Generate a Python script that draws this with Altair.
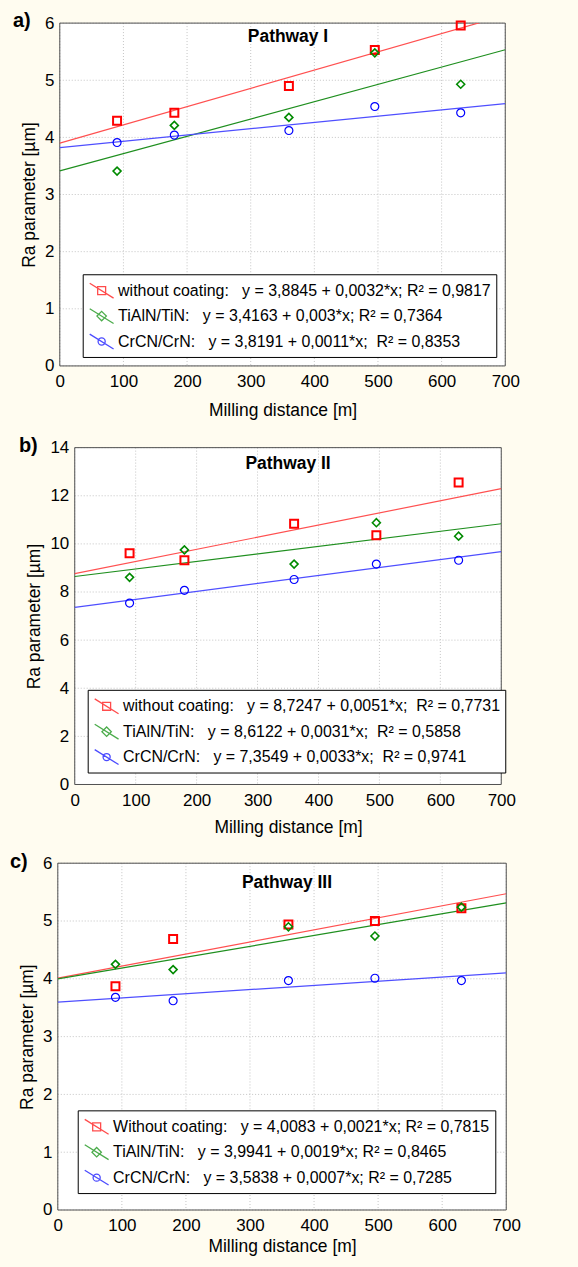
import altair as alt
import pandas as pd

FONT = "Liberation Sans"
BG = "#fffcf0"

# ---------------- data ----------------
x_m = [90, 180, 360, 495, 630]
series = ["without coating", "TiAlN/TiN", "CrCN/CrN"]
x_ticks = [0, 100, 200, 300, 400, 500, 600, 700]

# Pathway I
a_without = [4.29, 4.43, 4.90, 5.53, 5.96]
a_tialn = [3.41, 4.21, 4.35, 5.48, 4.93]
a_crcn = [3.91, 4.04, 4.12, 4.54, 4.43]
a_labels = [
    "without coating:   y = 3,8845 + 0,0032*x; R² = 0,9817",
    "TiAlN/TiN:   y = 3,4163 + 0,003*x; R² = 0,7364",
    "CrCN/CrN:   y = 3,8191 + 0,0011*x;  R² = 0,8353",
]
a_yticks = [0, 1, 2, 3, 4, 5, 6]

# Pathway II
b_without = [9.61, 9.32, 10.84, 10.36, 12.55]
b_tialn = [8.61, 9.75, 9.16, 10.88, 10.32]
b_crcn = [7.54, 8.07, 8.52, 9.16, 9.32]
b_labels = [
    "without coating:   y = 8,7247 + 0,0051*x;  R² = 0,7731",
    "TiAlN/TiN:   y = 8,6122 + 0,0031*x;  R² = 0,5858",
    "CrCN/CrN:   y = 7,3549 + 0,0033*x;  R² = 0,9741",
]
b_yticks = [0, 2, 4, 6, 8, 10, 12, 14]

# Pathway III
c_without = [3.87, 4.69, 4.94, 5.00, 5.22]
c_tialn = [4.25, 4.16, 4.90, 4.74, 5.24]
c_crcn = [3.68, 3.62, 3.97, 4.01, 3.97]
c_labels = [
    "Without coating:   y = 4,0083 + 0,0021*x; R² = 0,7815",
    "TiAlN/TiN:   y = 3,9941 + 0,0019*x; R² = 0,8465",
    "CrCN/CrN:   y = 3,5838 + 0,0007*x; R² = 0,7285",
]
c_yticks = [0, 1, 2, 3, 4, 5, 6]

# ---------------- styles ----------------
marker_colors = ["#ff0000", "#008a00", "#0000ff"]
line_colors = ["#ff5050", "#1f8f1f", "#4f4fff"]
marker_shapes = ["square", "diamond", "circle"]
marker_sizes = [64, 64, 40]
marker_widths = [2, 1.2, 2]
LINE = "M-1.14,-0.71L1.14,0.71"
legend_paths = [
    LINE + "M-0.38,-0.38H0.38V0.38H-0.38Z",
    LINE + "M0,-0.45L0.45,0L0,0.45L-0.45,0Z",
    LINE + "M0.34,0A0.34,0.34,0,1,1,-0.34,0A0.34,0.34,0,1,1,0.34,0Z",
]
ORIGIN = 57  # common left edge of the panel groups (page pixels)


def nb(s):
    return s.replace(" ", "\u00a0")


def frame(vals, labels):
    rows = []
    for s, lab, ys in zip(series, labels, vals):
        for xv, yv in zip(x_m, ys):
            rows.append({"x": xv, "y": yv, "series": s, "label": nb(lab)})
    return pd.DataFrame(rows)


def panel(vals, labels, yticks, letter, title, g):
    df = frame(vals, labels)
    w, h = g["w"], g["h"]
    px, py = g["px"], g["py"]
    s = px - ORIGIN
    xscale = alt.Scale(domain=[0, 700], nice=False, range=[s, s + w])
    yscale = alt.Scale(domain=[0, yticks[-1]], nice=False)
    xaxis = alt.Axis(
        values=x_ticks, title="Milling distance [m]", titleFont=FONT,
        titleFontSize=17.5, titleFontWeight="normal", titleColor="black",
        titlePadding=g["xtp"], titleX=s + w / 2, labelFont=FONT, labelFontSize=17,
        labelColor="black", labelPadding=8, labelFlush=False,
        labelOverlap=False, ticks=False, tickSize=0, domain=False, grid=False,
    )
    yaxis = alt.Axis(
        values=yticks, title="Ra parameter [µm]", titleFont=FONT,
        titleFontSize=17.5, titleFontWeight="normal", titleColor="black",
        titlePadding=6, labelFont=FONT, labelFontSize=17, offset=-s,
        labelColor="black", labelPadding=6, labelOverlap=False,
        ticks=False, tickSize=0, domain=False, grid=False,
    )
    xenc = alt.X("x:Q", scale=xscale, axis=xaxis)
    yenc = alt.Y("y:Q", scale=yscale, axis=yaxis)
    one = pd.DataFrame({"k": [0]})

    bg = alt.Chart(one).mark_rect(fill="white", strokeWidth=0).encode(
        x=alt.value(s), x2=alt.value(s + w), y=alt.value(0), y2=alt.value(h)
    )
    border = alt.Chart(one).mark_rect(fillOpacity=0, stroke="#505050", strokeWidth=1).encode(
        x=alt.value(s), x2=alt.value(s + w), y=alt.value(0), y2=alt.value(h)
    )
    xgrid = alt.Chart(pd.DataFrame({"x": x_ticks})).mark_rule(
        color="#c4c4c4", strokeDash=[1, 2], strokeWidth=1
    ).encode(x=xenc, y=alt.value(0), y2=alt.value(h))
    ygrid = alt.Chart(pd.DataFrame({"y": yticks})).mark_rule(
        color="#c4c4c4", strokeDash=[1, 2], strokeWidth=1
    ).encode(y=yenc, x=alt.value(s), x2=alt.value(s + w))

    base = alt.Chart(df)
    lines = base.transform_regression(
        "x", "y", groupby=["series"], extent=[0, 700]
    ).mark_line(clip=True, strokeWidth=1.2).encode(
        x=xenc, y=yenc,
        color=alt.Color("series:N", scale=alt.Scale(domain=series, range=line_colors), legend=None),
    )
    pts = base.mark_point(filled=False, opacity=1).encode(
        x=xenc, y=yenc,
        color=alt.Color("series:N", scale=alt.Scale(domain=series, range=marker_colors), legend=None),
        shape=alt.Shape("series:N", scale=alt.Scale(domain=series, range=marker_shapes), legend=None),
        size=alt.Size("series:O", scale=alt.Scale(domain=series, range=marker_sizes), legend=None),
        strokeWidth=alt.StrokeWidth("series:O", scale=alt.Scale(domain=series, range=marker_widths), legend=None),
    )
    labs = [nb(l) for l in labels]
    leg_def = alt.Legend(
        title=None, orient="none",
        legendX=g["lx"] - ORIGIN, legendY=g["ly"] - py,
        fillColor="white", strokeColor="black", padding=5,
        symbolSize=441, symbolStrokeWidth=1.3, symbolOffset=2.5,
        labelOffset=5, labelFont=FONT, labelFontSize=16, labelColor="black",
        labelLimit=700, rowPadding=3.5,
    )
    leg = base.transform_filter("false").mark_point(filled=False, strokeWidth=1.3).encode(
        x=xenc, y=yenc,
        color=alt.Color("label:N", scale=alt.Scale(domain=labs, range=marker_colors), legend=leg_def),
        shape=alt.Shape("label:N", scale=alt.Scale(domain=labs, range=legend_paths), legend=leg_def),
    )
    letter_t = alt.Chart(pd.DataFrame({"t": [letter]})).mark_text(
        font=FONT, fontSize=20, fontWeight="bold", align="left",
        baseline="alphabetic", color="black",
    ).encode(x=alt.value(g["letx"] - ORIGIN), y=alt.value(g["lety"] - py), text="t:N")
    title_t = alt.Chart(pd.DataFrame({"t": [title]})).mark_text(
        font=FONT, fontSize=17.5, fontWeight="bold", align="center",
        baseline="alphabetic", color="black",
    ).encode(x=alt.value(g["tx"] - ORIGIN), y=alt.value(g["ty"] - py), text="t:N")
    # invisible (background coloured) frame lines that fix the extent of each panel cell
    edge_v = alt.Chart(one).mark_rule(color=BG, strokeWidth=1).encode(
        x=alt.value(0.5 - ORIGIN),
        y=alt.value(g["top"] + 0.5 - py), y2=alt.value(g["bottom"] - 0.5 - py),
    )
    edge_h = alt.Chart(one).mark_rule(color=BG, strokeWidth=1).encode(
        x=alt.value(0.5 - ORIGIN), x2=alt.value(577.5 - ORIGIN),
        y=alt.value(g["top"] + 0.5 - py),
    )
    return alt.layer(
        edge_v, edge_h, bg, xgrid, ygrid, border, lines, pts, leg, letter_t, title_t
    ).resolve_scale(
        color="independent", shape="independent", size="independent",
        strokeWidth="independent",
    ).properties(width=s + w, height=h)


ga = dict(w=447, h=344, px=59, py=20, top=0, bottom=420, lx=82, ly=272,
          letx=12, lety=24, tx=288, ty=39, xtp=12)
gb = dict(w=428, h=338, px=74, py=444, top=420, bottom=840, lx=87, ly=687,
          letx=18, lety=448, tx=288, ty=465, xtp=10)
gc = dict(w=450, h=348, px=57, py=859, top=840, bottom=1267, lx=77, ly=1107,
          letx=9, lety=864, tx=287, ty=884, xtp=4)

pa = panel([a_without, a_tialn, a_crcn], a_labels, a_yticks, "a)", "Pathway I", ga)
pb = panel([b_without, b_tialn, b_crcn], b_labels, b_yticks, "b)", "Pathway II", gb)
pc = panel([c_without, c_tialn, c_crcn], c_labels, c_yticks, "c)", "Pathway III", gc)

chart = alt.vconcat(pa, pb, pc, spacing=0).properties(
    padding=0, background=BG
).configure_view(stroke="transparent", fill="transparent")

chart.save("out.html", embed_options={"renderer": "svg", "actions": False})
